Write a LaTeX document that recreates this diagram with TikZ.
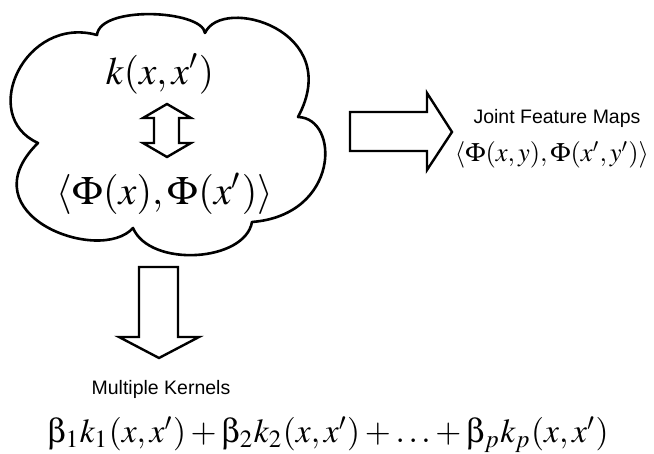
\documentclass[tikz,border=0pt]{standalone}
\usepackage{graphicx}
\usepackage{mathptmx}
\usepackage[Symbol]{upgreek}
\usepackage[no-math]{fontspec}
\newfontfamily\labelfont{Liberation Sans}
\begin{document}
\begin{tikzpicture}[x=1pt,y=-1pt,
  outline/.style={draw=black,line width=2.6pt,line join=round,fill=white},
  blockarrow/.style={draw=black,line width=2.4pt,line join=miter,fill=white},
  mathtext/.style={inner sep=0pt,anchor=center},
  sanslabel/.style={inner sep=0pt,anchor=center,font=\labelfont\fontsize{19.5}{22}\selectfont}]
\useasboundingbox (0,0) rectangle (654,454);

% cloud holding the kernel / feature-map identity
\draw[outline] (38,143)
  .. controls (-22,116) and (25,15) .. (97,35)
  .. controls (100,5) and (202,10) .. (205,33)
  .. controls (222,-5) and (345,30) .. (298,117)
  .. controls (340,118) and (340,215) .. (252,222)
  .. controls (245,262) and (150,268) .. (133,228)
  .. controls (100,265) and (-35,215) .. cycle;

\node[mathtext] (kern) at (160,74) {\resizebox{108pt}{!}{$k(x,x')$}};
\node[mathtext] (inner) at (165,194) {\resizebox{216pt}{!}{$\langle\Phi(x),\Phi(x')\rangle$}};

% two-headed block arrow between the two expressions
\draw[blockarrow] (167,104) -- (191,118) -- (179,118) -- (179,143) -- (191,143)
  -- (167,157) -- (143,143) -- (154,143) -- (154,118) -- (143,118) -- cycle;

% block arrow to the right
\draw[blockarrow] (350,112) -- (427,112) -- (427,93) -- (452,132) -- (427,170)
  -- (427,151) -- (350,151) -- cycle;

\node[sanslabel] (jfmlabel) at (557,118) {Joint Feature Maps};
\node[mathtext] (jfm) at (552,155) {\resizebox{194pt}{!}{$\langle\Phi(x,y),\Phi(x',y')\rangle$}};

% block arrow downwards
\draw[blockarrow] (139,267) -- (178,267) -- (178,337) -- (199,337) -- (159,358)
  -- (119,337) -- (139,337) -- cycle;

\node[sanslabel] (mklabel) at (161,389) {Multiple Kernels};
\node[mathtext] (mk) at (328,435) {\resizebox{561pt}{!}{%
  $\upbeta_1k_1(x,x')+\upbeta_2k_2(x,x')+\ldots+\upbeta_pk_p(x,x')$}};
\end{tikzpicture}
\end{document}
